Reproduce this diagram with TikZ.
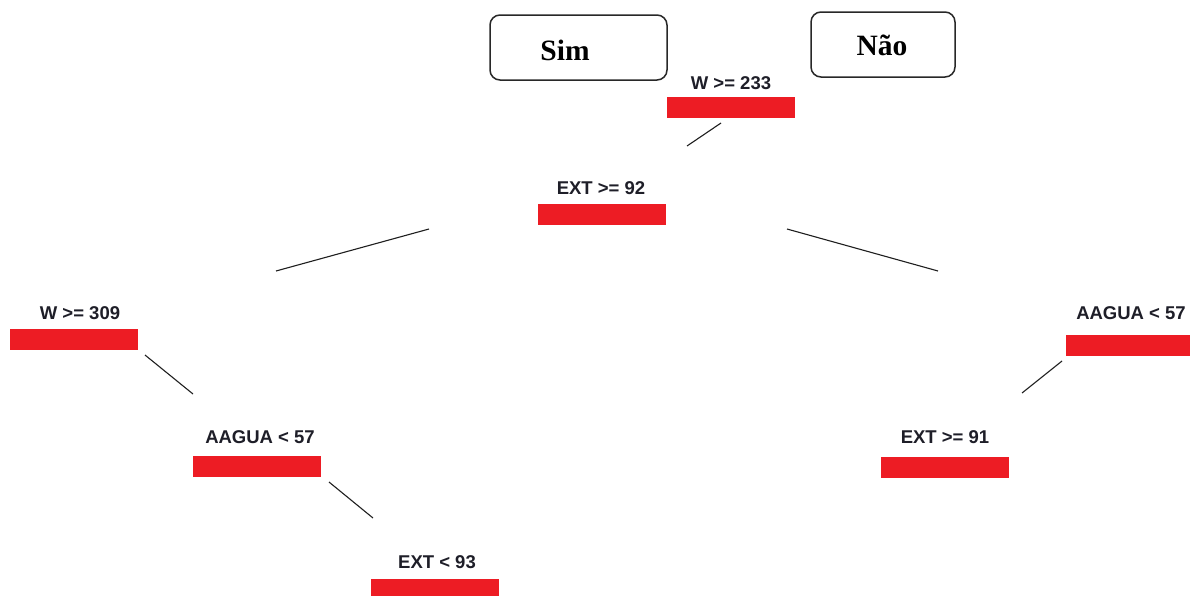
\documentclass[tikz,border=0pt]{standalone}
\usepackage{fontspec}
\setmainfont{Liberation Serif}
\newfontfamily\arialfont{Liberation Sans}
\begin{document}
\begin{tikzpicture}[x=1pt,y=-1pt,
  bar/.style={fill={rgb,255:red,237;green,28;blue,36}, draw=none, minimum width=128pt, minimum height=21pt, inner sep=0pt, anchor=north west},
  lbl/.style={font=\arialfont\bfseries\fontsize{18.5}{20}\selectfont, text={rgb,255:red,30;green,30;blue,40}, inner sep=0pt},
  legendbox/.style={draw={rgb,255:red,40;green,40;blue,40}, line width=1.5pt, rounded corners=10pt, inner sep=0pt},
  edge/.style={draw={rgb,255:red,30;green,30;blue,30}, line width=1.1pt}]
\useasboundingbox (0,0) rectangle (1190,595);
\fill[white] (0,0) rectangle (1190,595);
% legend boxes
\node[legendbox, minimum width=177pt, minimum height=65pt] (sim) at (578.5,47.5) {};
\node (simt) at (565,50) {\bfseries\fontsize{29.5}{32}\selectfont Sim};
\node[legendbox, minimum width=144pt, minimum height=65pt] (nao) at (883,44.5) {};
\node (naot) at (882,45) {\bfseries\fontsize{29.5}{32}\selectfont Não};
% bars
\node[bar] (b1) at (667,97) {};
\node[lbl] (l1) at (731,83) {W >= 233};
\node[bar] (b2) at (538,204) {};
\node[lbl] (l2) at (601,188) {EXT >= 92};
\node[bar] (b3) at (10,329) {};
\node[lbl] (l3) at (80,313) {W >= 309};
\node[bar] (b4) at (193,456) {};
\node[lbl] (l4) at (260,437) {AAGUA < 57};
\node[bar, minimum height=17pt] (b5) at (371,579) {};
\node[lbl] (l5) at (437,562) {EXT < 93};
\node[bar, minimum width=124pt] (b6) at (1066,335) {};
\node[lbl] (l6) at (1131,313) {AAGUA < 57};
\node[bar] (b7) at (881,457) {};
\node[lbl] (l7) at (945,437) {EXT >= 91};
% connector endpoints
\coordinate (c1a) at (721,123); \coordinate (c1b) at (687,146);
\coordinate (c2a) at (429,229); \coordinate (c2b) at (276,271);
\coordinate (c3a) at (787,229); \coordinate (c3b) at (938,271);
\coordinate (c4a) at (145,355); \coordinate (c4b) at (193,394);
\coordinate (c5a) at (329,482); \coordinate (c5b) at (373,518);
\coordinate (c6a) at (1062,361); \coordinate (c6b) at (1022,393);
\draw[edge] (c1a) -- (c1b);
\draw[edge] (c2a) -- (c2b);
\draw[edge] (c3a) -- (c3b);
\draw[edge] (c4a) -- (c4b);
\draw[edge] (c5a) -- (c5b);
\draw[edge] (c6a) -- (c6b);
\end{tikzpicture}
\end{document}
